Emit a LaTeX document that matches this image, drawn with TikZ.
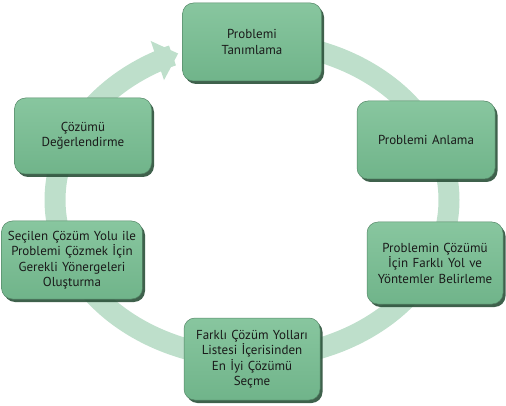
\documentclass[tikz,border=0pt]{standalone}
\usepackage{fontspec}
\setmainfont{PT Sans}
\usetikzlibrary{arrows.meta,shadows}
\definecolor{ringgreen}{HTML}{BEDFCB}
\definecolor{boxgreen}{HTML}{70B48A}
\definecolor{boxlight}{HTML}{88C69F}
\definecolor{boxshadow}{HTML}{2A5039}
\definecolor{txt}{HTML}{1A1A1A}
\begin{document}
\begin{tikzpicture}[x=1pt,y=-1pt,
  stepbox/.style={rounded corners=11pt, top color=boxlight, bottom color=boxgreen,
    draw=boxgreen!75!black, line width=0.5pt, minimum height=78pt,
    align=center, font=\fontsize{13}{15.5}\selectfont, text=txt, inner sep=1pt,
    drop shadow={shadow xshift=2.5pt, shadow yshift=-3pt, fill=boxshadow, opacity=0.9}},
  ring/.style={ringgreen, line width=21pt, -{Triangle[width=40pt,length=22pt]}}
  ]
\useasboundingbox (0,0) rectangle (506,406);
\draw[ring] plot[domain=-80:248, samples=120, smooth] ({252+197*cos(\x)},{200+158*sin(\x)});
\node[stepbox, minimum width=139pt, text width=136pt] (n1) at (252,42) {Problemi\\Tanımlama};
\node[stepbox, minimum width=138pt, text width=136pt] (n2) at (426,140) {Problemi Anlama};
\node[stepbox, minimum width=135pt, text width=134pt, minimum height=82pt] (n3) at (435,263) {Problemin Çözümü\\İçin Farklı Yol ve\\Yöntemler Belirleme};
\node[stepbox, minimum width=135pt, text width=134pt, minimum height=82pt] (n4) at (252,359) {Farklı Çözüm Yolları\\Listesi İçerisinden\\En İyi Çözümü\\Seçme};
\node[stepbox, minimum width=140pt, text width=139pt] (n5) at (72,260) {Seçilen Çözüm Yolu ile\\Problemi Çözmek İçin\\Gerekli Yönergeleri\\Oluşturma};
\node[stepbox, minimum width=137pt, text width=135pt, minimum height=76pt] (n6) at (83,136) {Çözümü\\Değerlendirme};
\end{tikzpicture}
\end{document}
